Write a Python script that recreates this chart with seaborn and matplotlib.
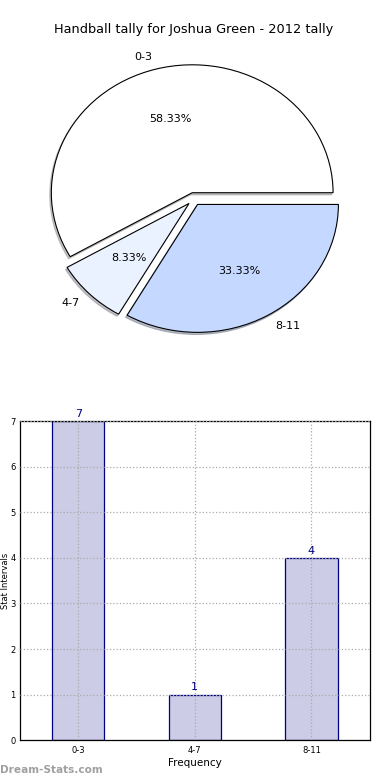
import matplotlib
matplotlib.use("Agg")
import matplotlib.pyplot as plt
import seaborn as sns

# =====================================
# Data
# =====================================
TITLE = "Handball tally for Joshua Green - 2012 tally"
intervals = ["0-3", "4-7", "8-11"]
counts = [7, 1, 4]
pie_colors = ["#ffffff", "#eaf1ff", "#c5d8ff"]
yticks = [0, 1, 2, 3, 4, 5, 6, 7]

sns.set_style("white")
plt.rcParams["font.family"] = ["DejaVu Sans"]
plt.rcParams["text.color"] = "black"
plt.rcParams["axes.labelcolor"] = "black"
plt.rcParams["xtick.color"] = "black"
plt.rcParams["ytick.color"] = "black"

fig = plt.figure(figsize=(3.9, 7.8), dpi=100)

# =====================================
# Pie chart
# =====================================
ax1 = fig.add_axes([0.046, 0.540, 0.903, 0.410])
ax1.pie(
    counts,
    labels=intervals,
    colors=pie_colors,
    explode=[0.05] * len(counts),
    autopct="%1.2f%%",
    shadow={"ox": -0.008, "oy": -0.012, "shade": 0.45},
    startangle=0,
    wedgeprops={"edgecolor": "black", "linewidth": 0.8},
    textprops={"fontsize": 8, "color": "black"},
)
ax1.set_aspect("auto")
ax1.set_xlim(-1.25, 1.25)
ax1.set_ylim(-1.25, 1.25)
ax1.set_title(TITLE, fontsize=9.3, pad=4, color="black")

# =====================================
# Bar chart
# =====================================
ax2 = fig.add_axes([0.051, 0.051, 0.897, 0.409])
sns.barplot(
    x=intervals,
    y=counts,
    color="#ccccE6",
    saturation=1,
    edgecolor="navy",
    linewidth=0.9,
    width=0.45,
    ax=ax2,
    zorder=2,
)
for i, v in enumerate(counts):
    ax2.text(i, v + 0.05, str(v), ha="center", va="bottom", color="navy", fontsize=8)

ax2.set_xlim(-0.5, 2.5)
ax2.set_ylim(0, 7)
ax2.set_yticks(yticks)
ax2.tick_params(axis="both", labelsize=6, length=2, width=0.6, direction="out", pad=2)
ax2.tick_params(axis="y", pad=1)
ax2.grid(True, linestyle=":", color="#aaaaaa", linewidth=0.9, zorder=0)
ax2.set_axisbelow(False)
for s in ax2.spines.values():
    s.set_color("black")
    s.set_linewidth(0.9)
ax2.set_xlabel("Frequency", fontsize=7.5, labelpad=2)
ax2.set_ylabel("Stat Intervals", fontsize=6)
ax2.yaxis.set_label_coords(-0.029, 0.5)

fig.text(0.0, 0.006, "Dream-Stats.com", color="#a0a0a0", fontsize=7.6,
         fontweight="bold", ha="left", va="bottom")

fig.savefig("out.png", dpi=100)
plt.close(fig)
